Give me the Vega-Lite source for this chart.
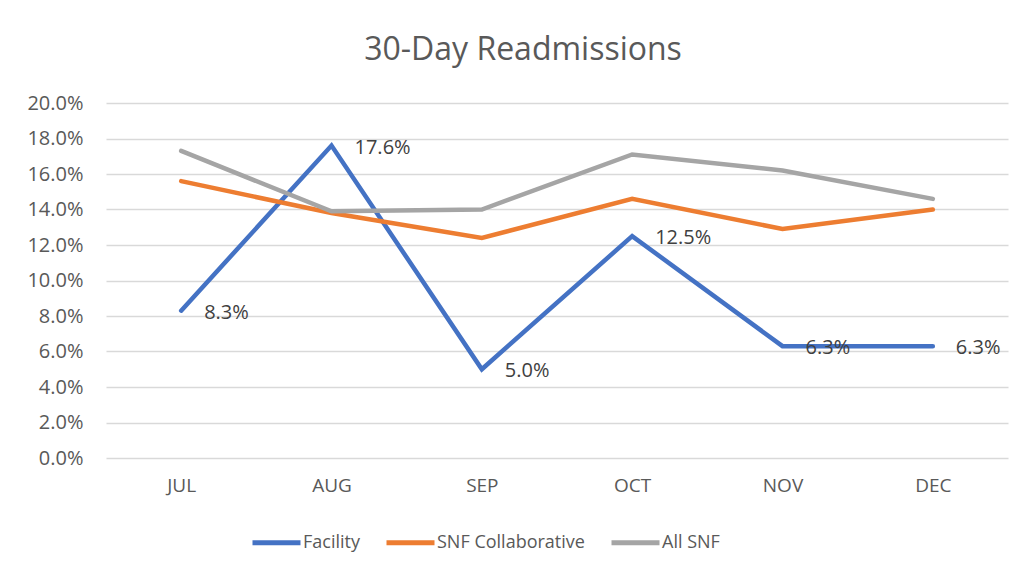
{
  "$schema": "https://vega.github.io/schema/vega-lite/v6.json",
  "width": 902,
  "height": 355,
  "autosize": {"type": "none"},
  "padding": {"left": 106, "top": 103, "right": 25, "bottom": 121},
  "background": "white",
  "title": {
    "text": "30-Day Readmissions",
    "font": "Open Sans",
    "fontSize": 32,
    "fontWeight": "normal",
    "color": "#595959",
    "anchor": "middle",
    "dx": -34,
    "offset": 26
  },
  "data": {
    "values": [
      {"month": "JUL", "series": "Facility", "value": 0.083},
      {"month": "AUG", "series": "Facility", "value": 0.176},
      {"month": "SEP", "series": "Facility", "value": 0.05},
      {"month": "OCT", "series": "Facility", "value": 0.125},
      {"month": "NOV", "series": "Facility", "value": 0.063},
      {"month": "DEC", "series": "Facility", "value": 0.063},
      {"month": "JUL", "series": "SNF Collaborative", "value": 0.156},
      {"month": "AUG", "series": "SNF Collaborative", "value": 0.138},
      {"month": "SEP", "series": "SNF Collaborative", "value": 0.124},
      {"month": "OCT", "series": "SNF Collaborative", "value": 0.146},
      {"month": "NOV", "series": "SNF Collaborative", "value": 0.129},
      {"month": "DEC", "series": "SNF Collaborative", "value": 0.14},
      {"month": "JUL", "series": "All SNF", "value": 0.173},
      {"month": "AUG", "series": "All SNF", "value": 0.139},
      {"month": "SEP", "series": "All SNF", "value": 0.14},
      {"month": "OCT", "series": "All SNF", "value": 0.171},
      {"month": "NOV", "series": "All SNF", "value": 0.162},
      {"month": "DEC", "series": "All SNF", "value": 0.146}
    ]
  },
  "encoding": {
    "x": {
      "field": "month",
      "type": "nominal",
      "sort": ["JUL", "AUG", "SEP", "OCT", "NOV", "DEC"],
      "scale": {"type": "point", "padding": 0.5},
      "axis": {
        "title": null,
        "labelAngle": 0,
        "labelFont": "Open Sans",
        "labelFontSize": 19,
        "labelColor": "#595959",
        "labelPadding": 18,
        "ticks": false,
        "domain": false,
        "grid": false
      }
    },
    "y": {
      "field": "value",
      "type": "quantitative",
      "scale": {"domain": [0, 0.2], "nice": false},
      "axis": {
        "title": null,
        "format": ".1%",
        "values": [0, 0.02, 0.04, 0.06, 0.08, 0.1, 0.12, 0.14, 0.16, 0.18, 0.2],
        "labelFont": "Open Sans",
        "labelFontSize": 20,
        "labelColor": "#595959",
        "labelPadding": 23,
        "ticks": false,
        "domain": false,
        "grid": true,
        "gridColor": "#D9D9D9",
        "gridWidth": 1.5
      }
    }
  },
  "layer": [
    {
      "mark": {"type": "line", "strokeWidth": 4.5, "strokeCap": "round", "strokeJoin": "miter"},
      "encoding": {
        "color": {
          "field": "series",
          "type": "nominal",
          "sort": ["Facility", "SNF Collaborative", "All SNF"],
          "scale": {
            "domain": ["Facility", "SNF Collaborative", "All SNF"],
            "range": ["#4472C4", "#ED7D31", "#A5A5A5"]
          },
          "legend": {
            "title": null,
            "orient": "none",
            "direction": "horizontal",
            "legendX": 144,
            "legendY": 413,
            "symbolType": "stroke",
            "symbolSize": 2304,
            "symbolStrokeWidth": 5,
            "labelFont": "Open Sans",
            "labelFontSize": 18,
            "labelColor": "#595959",
            "labelOffset": 0,
            "columnPadding": 16
          }
        }
      }
    },
    {
      "transform": [{"filter": "datum.series === 'Facility'"}],
      "mark": {
        "type": "text",
        "align": "left",
        "baseline": "middle",
        "dx": 23,
        "dy": 2,
        "font": "Open Sans",
        "fontSize": 20,
        "color": "#404040"
      },
      "encoding": {
        "text": {"field": "value", "type": "quantitative", "format": ".1%"}
      }
    }
  ],
  "config": {"view": {"stroke": null}}
}
